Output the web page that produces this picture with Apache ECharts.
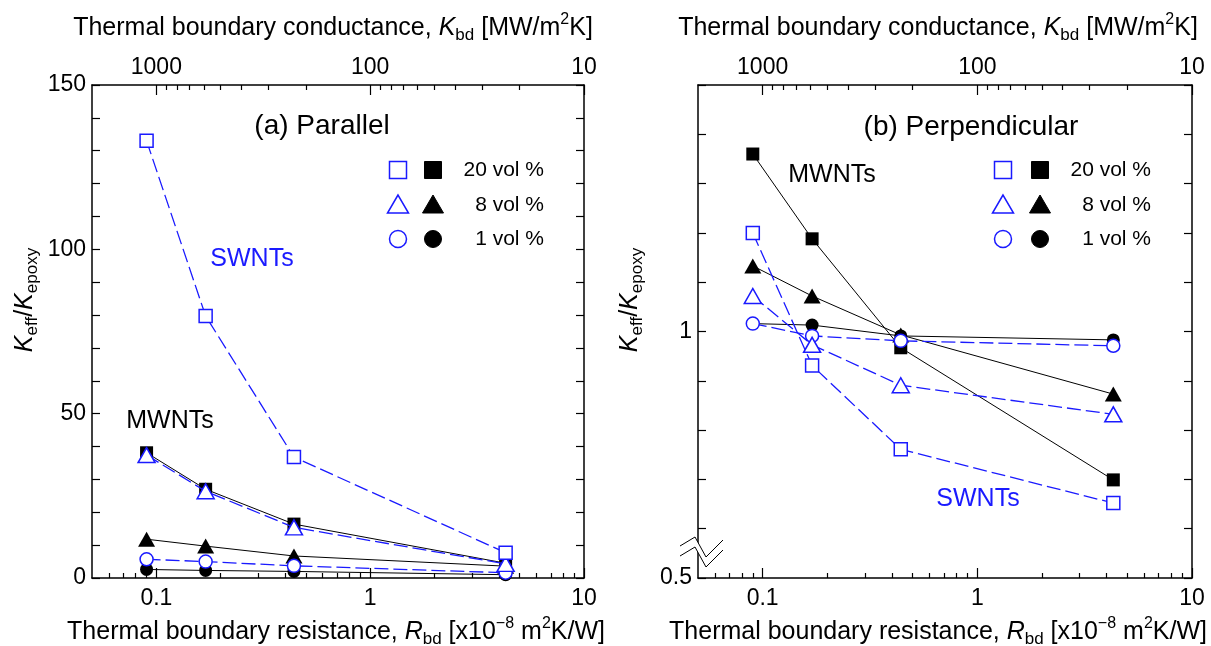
<!DOCTYPE html>
<html><head><meta charset="utf-8">
<script src="https://cdn.jsdelivr.net/npm/echarts@6/dist/echarts.min.js"></script>
<style>html,body{margin:0;padding:0;background:#fff}#c{width:1211px;height:646px}</style>
</head><body><div id="c"></div>
<script>
// ---- data ----
const R_bd = [0.09, 0.17, 0.44, 4.3];            // x: thermal boundary resistance [1e-8 m2K/W]
// (a) Parallel  K_eff/K_epoxy
const parSW20 = [133, 79.7, 36.8, 7.7];
const parSW8  = [37.4, 26.4, 15.4, 4.3];
const parSW1  = [5.7, 5.0, 3.7, 1.6];
const parMW20 = [38.1, 27.0, 16.4, 4.5];
const parMW8  = [11.8, 9.7, 6.7, 3.6];
const parMW1  = [2.6, 2.3, 2.0, 1.0];
// (b) Perpendicular  K_eff/K_epoxy
const perSW20 = [1.200, 0.931, 0.761, 0.652];
const perSW8  = [1.072, 0.973, 0.891, 0.832];
const perSW1  = [1.016, 0.991, 0.981, 0.971];
const perMW20 = [1.360, 1.188, 0.967, 0.699];
const perMW8  = [1.133, 1.072, 0.993, 0.873];
const perMW1  = [1.016, 1.013, 0.991, 0.983];
// ticks
const xMajorTicks = [0.1, 1, 10];
const xMinorTicks = [0.06,0.07,0.08,0.09,0.2,0.3,0.4,0.5,0.6,0.7,0.8,0.9,2,3,4,5,6,7,8,9];
const kMinorTicks = [900,800,700,600,500,400,300,200,90,80,70,60,50,40,30,20];
const parYLabels = [0, 50, 100, 150];
const perYLabels = [0.5, 1];
const legendLabels = ['20 vol %', '8 vol %', '1 vol %'];

// ---- styling ----
const BLUE = '#1a1aff';
const FONT = '"Liberation Sans", Arial, Helvetica, sans-serif';
const GT = 85, GH = 493;
const PANELS = [{left: 92, width: 492}, {left: 698, width: 494}];

const grids = [];
PANELS.forEach(p => { grids.push({left: p.left, top: GT, width: p.width, height: GH}); grids.push({left: p.left, top: GT, width: p.width, height: GH}); });

function xAxis(gi, pos, values, len, showLabel, fmt) {
  return {
    type: 'log', logBase: 10, gridIndex: gi, position: pos, min: 0.05, max: 10,
    axisLine: {show: showLabel, onZero: false, lineStyle: {color: '#000', width: 1.5}},
    axisTick: {show: true, inside: true, length: len, customValues: values, lineStyle: {color: '#000', width: 1.2}},
    axisLabel: {show: showLabel, customValues: values, formatter: fmt, color: '#000', fontSize: 23, fontFamily: FONT, margin: pos === 'bottom' ? 9 : 6},
    splitLine: {show: false}, minorTick: {show: false}, minorSplitLine: {show: false}
  };
}
const kFromR = v => String(Math.round(100 / v));
const rFmt = v => (v === 0.1 ? '0.1' : String(Math.round(v)));

const xAxes = [
  xAxis(0, 'bottom', xMajorTicks, 10, true, rFmt),
  xAxis(0, 'top', xMajorTicks, 10, true, kFromR),
  xAxis(1, 'bottom', xMinorTicks, 5, false),
  xAxis(1, 'top', kMinorTicks.map(k => 100 / k), 5, false),
  xAxis(2, 'bottom', xMajorTicks, 10, true, rFmt),
  xAxis(2, 'top', xMajorTicks, 10, true, kFromR),
  xAxis(3, 'bottom', xMinorTicks, 5, false),
  xAxis(3, 'top', kMinorTicks.map(k => 100 / k), 5, false)
];

function yAxis(gi, pos, min, max, interval, labels, fmt) {
  return {
    type: 'value', gridIndex: gi, position: pos, min, max, interval,
    axisLine: {show: true, onZero: false, lineStyle: {color: '#000', width: 1.5}},
    axisTick: {show: true, inside: true, length: 8, lineStyle: {color: '#000', width: 1.2}},
    axisLabel: labels ? {show: true, customValues: labels, formatter: fmt, color: '#000', fontSize: 23, fontFamily: FONT, margin: 6} : {show: false},
    splitLine: {show: false}
  };
}
const yAxes = [
  yAxis(0, 'left', 0, 150, 10, parYLabels, v => String(v)),
  yAxis(0, 'right', 0, 150, 10, null),
  {type: 'value', gridIndex: 1, show: false, min: 0, max: 1},
  yAxis(2, 'left', 0.5, 1.5, 0.1, perYLabels, v => (Math.abs(v - 1) < 1e-9 ? '1' : '0.5')),
  yAxis(2, 'right', 0.5, 1.5, 0.1, null),
  {type: 'value', gridIndex: 3, show: false, min: 0, max: 1}
];

function line(name, xi, yi, vals, blue, symbol, size) {
  return {
    name, type: 'line', xAxisIndex: xi, yAxisIndex: yi,
    data: R_bd.map((r, i) => [r, vals[i]]),
    symbol, symbolSize: size, showAllSymbol: true,
    lineStyle: blue ? {color: BLUE, width: 1.3, type: [14, 5]} : {color: '#000', width: 1},
    itemStyle: blue ? {color: '#fff', borderColor: BLUE, borderWidth: 1.5} : {color: '#000', borderWidth: 0},
    emphasis: {disabled: true}, z: blue ? 3 : 2
  };
}
const SQ = 13, TRI = [17, 15], CIR = 13;
const series = [
  line('MWNT 1 par', 0, 0, parMW1, false, 'circle', CIR),
  line('MWNT 8 par', 0, 0, parMW8, false, 'triangle', TRI),
  line('MWNT 20 par', 0, 0, parMW20, false, 'rect', SQ),
  line('SWNT 1 par', 0, 0, parSW1, true, 'circle', CIR),
  line('SWNT 8 par', 0, 0, parSW8, true, 'triangle', TRI),
  line('SWNT 20 par', 0, 0, parSW20, true, 'rect', SQ),
  line('MWNT 1 per', 4, 3, perMW1, false, 'circle', CIR),
  line('MWNT 8 per', 4, 3, perMW8, false, 'triangle', TRI),
  line('MWNT 20 per', 4, 3, perMW20, false, 'rect', SQ),
  line('SWNT 1 per', 4, 3, perSW1, true, 'circle', CIR),
  line('SWNT 8 per', 4, 3, perSW8, true, 'triangle', TRI),
  line('SWNT 20 per', 4, 3, perSW20, true, 'rect', SQ)
];

// ---- text & decorations ----
const rich = {
  i: {fontStyle: 'italic', fontSize: 25, fontFamily: FONT, lineHeight: 32, verticalAlign: 'middle', fill: '#000'},
  sub: {fontSize: 17, fontFamily: FONT, lineHeight: 17, verticalAlign: 'bottom', fill: '#000'},
  sup: {fontSize: 16, fontFamily: FONT, lineHeight: 16, verticalAlign: 'top', fill: '#000'}
};
function txt(x, y, text, size, color, align, extra) {
  return Object.assign({
    type: 'text', x, y, z: 50,
    style: {text, fill: color || '#000', fontSize: size, fontFamily: FONT, lineHeight: 32,
      align: align || 'center', textAlign: align || 'center', verticalAlign: 'middle', textVerticalAlign: 'middle', rich}
  }, extra || {});
}
const xTitle = 'Thermal boundary resistance, {i|R}{sub|bd} [x10{sup|\u22128} m{sup|2}K/W]';
const kTitle = 'Thermal boundary conductance, {i|K}{sub|bd} [MW/m{sup|2}K]';
const yTitle = '{i|K}{sub|eff}/{i|K}{sub|epoxy}';

const graphics = [
  txt(336, 632, xTitle, 25), txt(938, 632, xTitle, 25),
  txt(333, 28, kTitle, 25), txt(938, 28, kTitle, 25),
  txt(25, 300, yTitle, 25, '#000', 'center', {rotation: Math.PI / 2}),
  txt(630, 300, yTitle, 25, '#000', 'center', {rotation: Math.PI / 2}),
  txt(322, 126, '(a) Parallel', 28), txt(971, 127, '(b) Perpendicular', 28),
  txt(252, 259, 'SWNTs', 25, BLUE), txt(170, 421, 'MWNTs', 25),
  txt(832, 175, 'MWNTs', 25), txt(978, 499, 'SWNTs', 25, BLUE)
];
// legends (symbol pairs + labels)
const rows = [170, 205, 239];
[{ox: 398, fx: 433, tx: 544}, {ox: 1003, fx: 1040, tx: 1151}].forEach(L => {
  rows.forEach((ry, k) => {
    [[L.ox, true], [L.fx, false]].forEach(([cx, open]) => {
      const st = open ? {fill: '#fff', stroke: BLUE, lineWidth: 1.5} : {fill: '#000', stroke: '#000', lineWidth: 1};
      if (k === 0) graphics.push({type: 'rect', z: 50, shape: {x: cx - 8.5, y: ry - 8.5, width: 17, height: 17}, style: st});
      if (k === 1) graphics.push({type: 'polygon', z: 50, shape: {points: [[cx, ry - 10], [cx - 10.5, ry + 8], [cx + 10.5, ry + 8]]}, style: st});
      if (k === 2) graphics.push({type: 'circle', z: 50, shape: {cx, cy: ry, r: 8.5}, style: st});
    });
    graphics.push(txt(L.tx, ry, legendLabels[k], 21, '#000', 'right'));
  });
});
// axis break mark on (b)
const up = [[680, 546], [695, 537], [706, 557], [723, 540]];
const lo = up.map(([x, y]) => [x, y + 10]);
graphics.push({type: 'polygon', z: 60, shape: {points: up.concat(lo.slice().reverse())}, style: {fill: '#fff', stroke: null}});
graphics.push({type: 'polyline', z: 61, shape: {points: up}, style: {stroke: '#000', lineWidth: 1, fill: null}});
graphics.push({type: 'polyline', z: 61, shape: {points: lo}, style: {stroke: '#000', lineWidth: 1, fill: null}});

const chart = echarts.init(document.getElementById('c'), null, {renderer: 'canvas'});
chart.setOption({
  animation: false, backgroundColor: '#fff',
  textStyle: {fontFamily: FONT},
  grid: grids, xAxis: xAxes, yAxis: yAxes, series, graphic: graphics
});
</script></body></html>
